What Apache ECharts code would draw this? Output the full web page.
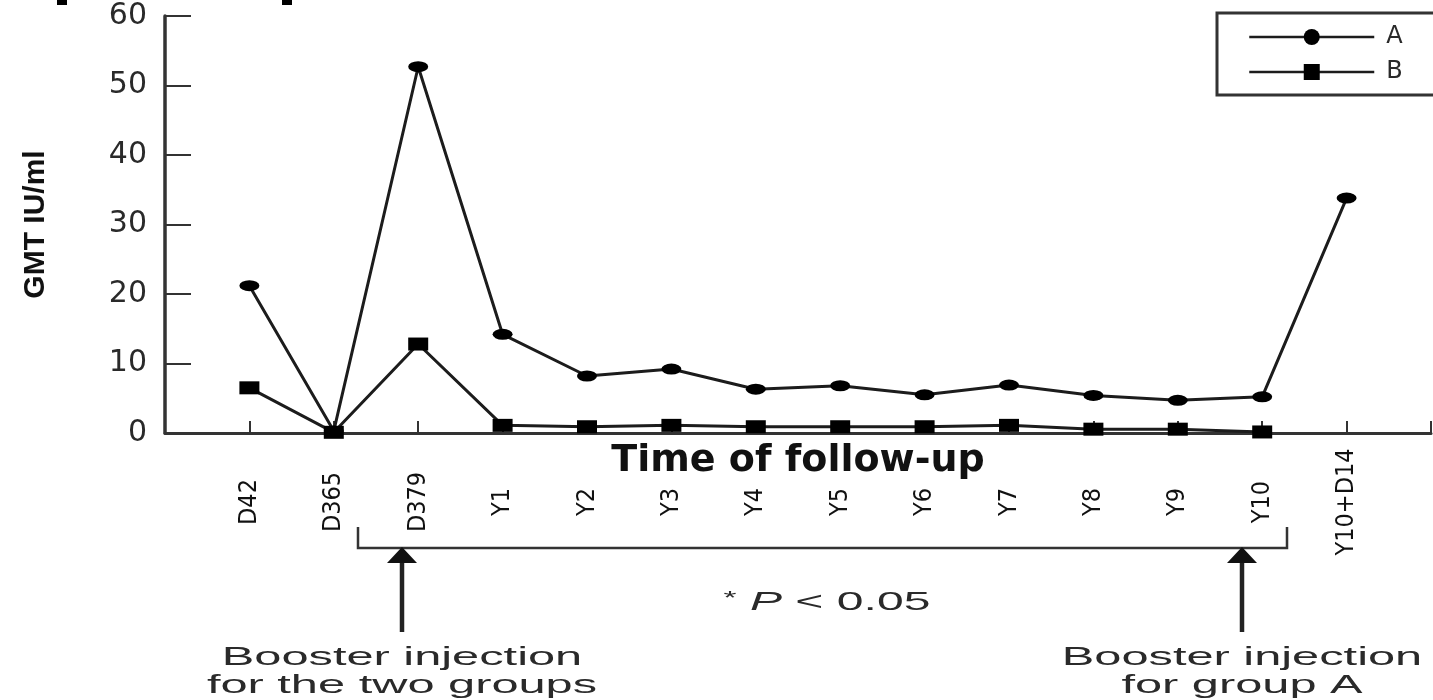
<!DOCTYPE html>
<html><head><meta charset="utf-8">
<script src="https://cdn.jsdelivr.net/npm/echarts@6/dist/echarts.min.js"></script>
<style>html,body{margin:0;padding:0;background:#fff}#c{width:1433px;height:700px}</style>
</head><body><div id="c"></div>
<script>
const categories = ['D42','D365','D379','Y1','Y2','Y3','Y4','Y5','Y6','Y7','Y8','Y9','Y10','Y10+D14'];
const seriesA = [21.2, 0.3, 52.7, 14.2, 8.2, 9.2, 6.3, 6.8, 5.5, 6.9, 5.4, 4.7, 5.2, 33.8];
const seriesB = [6.5, 0.1, 12.8, 1.1, 0.9, 1.1, 0.9, 0.9, 0.9, 1.1, 0.55, 0.55, 0.15, null];
const yTicks = [0, 10, 20, 30, 40, 50, 60];

const ink = '#1c1c1c';
const chart = echarts.init(document.getElementById('c'), null, {renderer: 'canvas'});
const toPairs = arr => arr.map((v, i) => [i, v]);

function annoText(x, y, text) {
  return {
    type: 'text', x: x, y: y, scaleX: 1.95,
    style: {
      text: text, x: 0, y: 0, align: 'center', verticalAlign: 'middle',
      fontFamily: 'Liberation Sans, Arial, sans-serif', fontSize: 25, lineHeight: 28, fill: '#2a2a2a'
    }
  };
}

chart.setOption({
  backgroundColor: '#fff',
  animation: false,
  grid: {left: 165, right: 2, top: 16, bottom: 267},
  legend: {
    orient: 'vertical', left: 1217, top: 13,
    padding: [12, 40, 11, 31], itemGap: 11, itemWidth: 125, itemHeight: 20,
    borderColor: '#333', borderWidth: 3,
    lineStyle: {width: 2.5, color: ink},
    textStyle: {fontFamily: 'DejaVu Sans', fontSize: 24, lineHeight: 24, color: '#2a2a2a', padding: [0, 0, 0, 7]},
    data: ['A', 'B']
  },
  xAxis: {
    type: 'value', min: -1, max: 14, interval: 1,
    name: 'Time of follow-up', nameLocation: 'middle', nameGap: 28, nameMoveOverlap: false,
    nameTextStyle: {fontFamily: 'DejaVu Sans', fontWeight: 'bold', fontSize: 38, color: '#111', verticalAlign: 'middle'},
    axisLine: {show: true, onZero: false, lineStyle: {color: '#333', width: 3}},
    axisTick: {show: true, inside: true, length: 12, lineStyle: {color: '#333', width: 2}},
    splitLine: {show: false},
    axisLabel: {
      rotate: 90, align: 'center', verticalAlign: 'middle', margin: 69,
      fontFamily: 'DejaVu Sans Condensed, DejaVu Sans, sans-serif', fontSize: 25, color: '#111',
      showMinLabel: true, showMaxLabel: true, hideOverlap: false,
      formatter: v => categories[Math.round(v)] || ''
    }
  },
  yAxis: {
    type: 'value', min: yTicks[0], max: yTicks[yTicks.length - 1], interval: yTicks[1] - yTicks[0],
    name: 'GMT IU/ml', nameLocation: 'middle', nameGap: 114, nameMoveOverlap: false,
    nameTextStyle: {fontFamily: 'Liberation Sans, Arial, sans-serif', fontWeight: 'bold', fontSize: 30, color: '#111'},
    axisLine: {show: true, onZero: false, lineStyle: {color: '#333', width: 3.5}},
    axisTick: {show: true, inside: true, length: 26, lineStyle: {color: '#333', width: 2}},
    splitLine: {show: false},
    axisLabel: {margin: 18, fontFamily: 'DejaVu Sans', fontSize: 30, color: '#2a2a2a'}
  },
  series: [
    {
      name: 'A', type: 'line', data: toPairs(seriesA),
      symbol: 'circle', symbolSize: [20, 11],
      lineStyle: {color: ink, width: 3}, itemStyle: {color: '#000'}
    },
    {
      name: 'B', type: 'line', data: toPairs(seriesB),
      symbol: 'rect', symbolSize: [20, 13],
      lineStyle: {color: ink, width: 3}, itemStyle: {color: '#000'}
    }
  ],
  graphic: [
    {type: 'rect', shape: {x: 57, y: 0, width: 10, height: 5}, style: {fill: '#000'}},
    {type: 'rect', shape: {x: 282, y: 0, width: 10, height: 5}, style: {fill: '#000'}},
    {type: 'polyline', shape: {points: [[358, 527], [358, 548], [1287, 548], [1287, 527]]}, style: {stroke: '#333', lineWidth: 2.5, fill: null}},
    {type: 'line', shape: {x1: 402, y1: 632, x2: 402, y2: 560}, style: {stroke: '#222', lineWidth: 4.5}},
    {type: 'polygon', shape: {points: [[402, 547], [387, 563], [417, 563]]}, style: {fill: '#111'}},
    {type: 'line', shape: {x1: 1242, y1: 632, x2: 1242, y2: 560}, style: {stroke: '#222', lineWidth: 4.5}},
    {type: 'polygon', shape: {points: [[1242, 547], [1227, 563], [1257, 563]]}, style: {fill: '#111'}},
    {
      type: 'text', x: 827, y: 603, scaleX: 1.85,
      style: {
        text: '{s|*} {p|P} < 0.05', x: 0, y: 0, align: 'center', verticalAlign: 'middle',
        fontFamily: 'Liberation Sans, Arial, sans-serif', fontSize: 26, fill: '#2a2a2a',
        rich: {
          s: {fontSize: 18, verticalAlign: 'top', fill: '#2a2a2a', fontFamily: 'Liberation Sans, Arial, sans-serif'},
          p: {fontStyle: 'italic', fontSize: 26, fill: '#2a2a2a', fontFamily: 'Liberation Sans, Arial, sans-serif'}
        }
      }
    },
    annoText(402, 672, 'Booster injection\nfor the two groups'),
    annoText(1242, 672, 'Booster injection\nfor group A')
  ]
});
</script></body></html>
